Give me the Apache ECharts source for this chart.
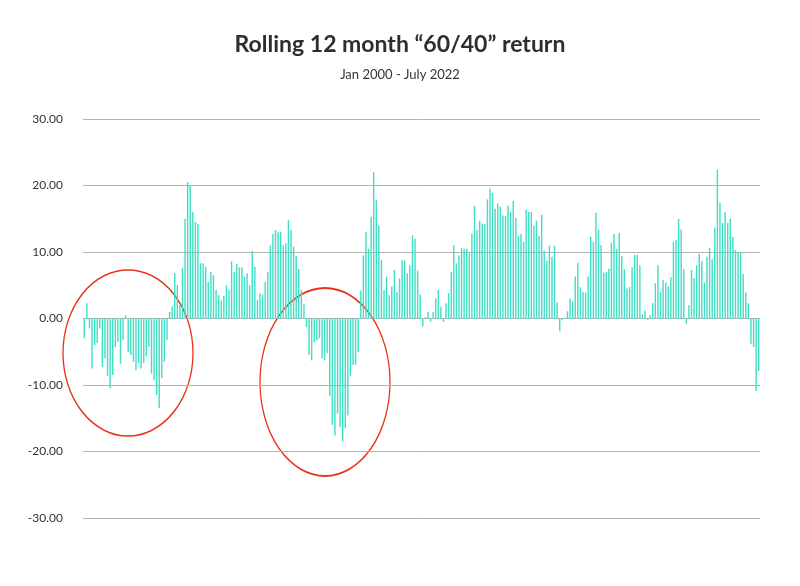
<!DOCTYPE html>
<html><head><meta charset="utf-8">
<script src="https://cdn.jsdelivr.net/npm/echarts@6/dist/echarts.min.js"></script>
<style>html,body{margin:0;padding:0;background:#fff}#c{width:800px;height:586px}</style>
</head><body><div id="c"></div>
<script>
const seg1 = [-3,2.3,-1.5,-7.5,-4,-3.7,-1.5,-7.3,-6,-8.6,-10.5,-8.5,-4.3,-3.5,-6.8,-3.2,0.5,-5,-5.5,-6.5,-7.8,-6.7,-7.5,-6.7,-5.7,-4.3,-8.3,-9.3,-11.5,-13.5,-9,-6.5,-3.2,1,1.8,6.8,5,2,7.6,15,20.5,20,16,14.5,14.2,8.3,8.3];
const seg2 = [7.8,5.5,7,6.5,4.3,3.5,2.7,3.4,5,4.3,8.6,7,8.2,7.7,7.7,6.3,6.8,5,10.2,7.8,2.8,3.8,3.6,5.5,7,11,12.7,13.3,13,13,11,11.3,14.8,13.3,10.8,9.4,7.5,4.3,2.2,-1.3,-5.5,-6.3,-3.6,-3.3];
const seg3 = [-3,-6,-6.3,-5.2,-11.6,-16,-17.6,-14.3,-16.3,-18.5,-16.5,-14.6,-8.6,-7,-7,-5,4.2,9.5,13,10.5,15.3,22,17.8,14,8.8,4.3,6.3,3.5,4.8,7.3,4,6,8.8,8.7,6.8,8,12.5,12,7.2,3.6,-1.2,0.2,1,-0.5];
const seg4 = [1,3,4.3,1.8,-0.5,2.3,3.8,7,11,8.3,9.5,10.6,10.5,10.5,9.8,12.8,16.9,13.3,14.7,14.3,14.2,17.9,19.5,18.9,16.5,17.3,16.8,15.5,15.4,17,16,17.7,15.1,12.4,12.7,11.5,16.4,16,16,14,14.7,12.4,15.6,10.2,8.7];
const seg5 = [11,9.3,10.9,2.4,-1.9,-0.2,0.1,1.1,3,2.6,6.3,8.4,4.7,4,3.9,6.3,12.3,11.5,15.9,13.4,11,6.9,7,7.5,11.4,12.7,10.5,12.9,9.4,7.4,4.5,4.7,7.7,9.6,9.6,8,0.6,1.2,-0.2,0.5];
const seg6 = [2.3,5.3,8,4,5.8,5.4,4.8,6.2,11.5,11.8,15,13.4,7.4,-0.8,2,7.3,6.1,8,9.7,8.6,5.4,9.3,10.6,8.9,13.7,22.4,17.4,14.4,16,14.4,15,12.3,10.3,10,9.9,6.7,3.9,2.3,-3.8,-4.3,-10.9,-7.9];
const values = [...seg1,...seg2,...seg3,...seg4,...seg5,...seg6];
const categories = values.map((_, i) => { const m = i % 12, y = 2000 + Math.floor(i / 12); return y + '-' + String(m + 1).padStart(2, '0'); });
const yTicks = [-30, -20, -10, 0, 10, 20, 30];

const chart = echarts.init(document.getElementById('c'));
chart.setOption({
  backgroundColor: '#fff',
  title: {
    text: 'Rolling 12 month \u201c60/40\u201d return',
    subtext: 'Jan 2000 - July 2022',
    left: 'center', top: 28, itemGap: 12,
    textStyle: {fontFamily: 'Lato', fontSize: 23, fontWeight: 'bold', color: '#2e2e2e'},
    subtextStyle: {fontFamily: 'Lato', fontSize: 13, color: '#333'}
  },
  grid: {left: 83, right: 40, top: 119, bottom: 68},
  xAxis: {type: 'category', data: categories, axisLine: {show: false}, axisTick: {show: false}, axisLabel: {show: false}},
  yAxis: {type: 'value', min: yTicks[0], max: yTicks[yTicks.length - 1], interval: 10,
    axisLabel: {formatter: v => v.toFixed(2), color: '#333', fontFamily: 'Lato', fontSize: 12, margin: 20},
    splitLine: {lineStyle: {color: '#b3b3b3', width: 1}}},
  series: [{type: 'bar', data: values, barCategoryGap: '45%', itemStyle: {color: '#40dfc4'}}],
  graphic: [
    {type: 'circle', x: 128, y: 353, scaleX: 0.65, scaleY: 0.83, shape: {r: 100}, style: {fill: 'none', stroke: '#e8331c', lineWidth: 1.5, strokeNoScale: true}},
    {type: 'circle', x: 325, y: 382, scaleX: 0.65, scaleY: 0.94, shape: {r: 100}, style: {fill: 'none', stroke: '#e8331c', lineWidth: 1.5, strokeNoScale: true}}
  ]
});
</script></body></html>
